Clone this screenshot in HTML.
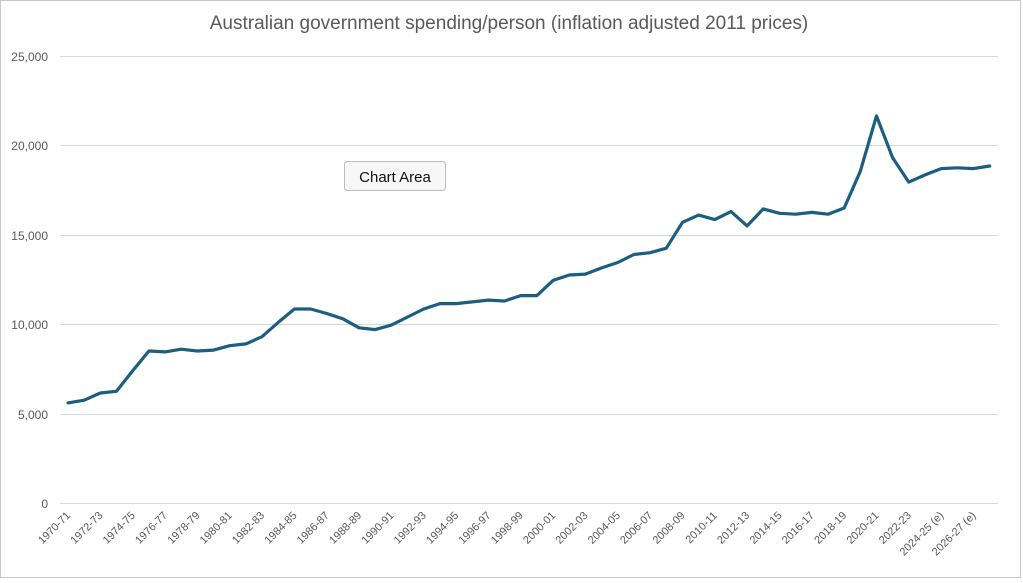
<!DOCTYPE html>
<html><head><style>
body{margin:0;background:#fff;}
svg{display:block;font-family:"Liberation Sans",sans-serif;}
</style></head><body>
<svg width="1023" height="583" viewBox="0 0 1023 583" xmlns="http://www.w3.org/2000/svg">
<rect x="0.5" y="0.5" width="1020" height="577" fill="#fff" stroke="#c8c8c8"/>
<text x="509" y="29" text-anchor="middle" font-size="19" fill="#595959">Australian government spending/person (inflation adjusted 2011 prices)</text>
<g stroke="#d9d9d9" stroke-width="1">
<line x1="60" x2="998" y1="503.5" y2="503.5"/>
<line x1="60" x2="998" y1="414.5" y2="414.5"/>
<line x1="60" x2="998" y1="324.5" y2="324.5"/>
<line x1="60" x2="998" y1="235.5" y2="235.5"/>
<line x1="60" x2="998" y1="145.5" y2="145.5"/>
<line x1="60" x2="998" y1="56.5" y2="56.5"/>
</g>
<g font-size="12" fill="#595959" text-anchor="end">
<text x="48" y="508">0</text>
<text x="48" y="419">5,000</text>
<text x="48" y="329">10,000</text>
<text x="48" y="240">15,000</text>
<text x="48" y="150">20,000</text>
<text x="48" y="61">25,000</text>
</g>
<g id="xl" font-size="11" fill="#595959" text-anchor="end"></g>
<polyline id="ln" fill="none" stroke="#1b5e80" stroke-width="3.2" stroke-linejoin="round" stroke-linecap="round" points=""/>
<g>
<rect x="344.5" y="161.5" width="101" height="29" rx="3" fill="#f7f7f7" stroke="#bbb"/>
<text x="395" y="182" text-anchor="middle" font-size="15" fill="#111">Chart Area</text>
</g>
</svg>
<script>
var v=[5600,5750,6150,6250,7400,8500,8450,8600,8500,8550,8800,8900,9300,10100,10850,10850,10600,10300,9800,9700,9950,10400,10850,11150,11150,11250,11350,11300,11600,11600,12450,12750,12800,13150,13450,13900,14000,14250,15700,16100,15850,16300,15500,16450,16200,16150,16250,16150,16500,18550,21650,19300,17950,18350,18700,18750,18700,18850];
var pts=[];for(var i=0;i<v.length;i++){pts.push((68+16.17*i).toFixed(1)+","+(503-v[i]*0.01788).toFixed(1));}
document.getElementById("ln").setAttribute("points",pts.join(" "));
var g=document.getElementById("xl"),s="";
for(var i=0;i<58;i+=2){var y=1970+i;var lab=y+"-"+String((y+1)%100).padStart(2,"0");if(y>=2024)lab+=" (e)";var x=68+16.17*i+3;
s+='<text transform="translate('+x.toFixed(1)+',516) rotate(-45)">'+lab+'</text>';}
g.innerHTML=s;
</script>
</body></html>
